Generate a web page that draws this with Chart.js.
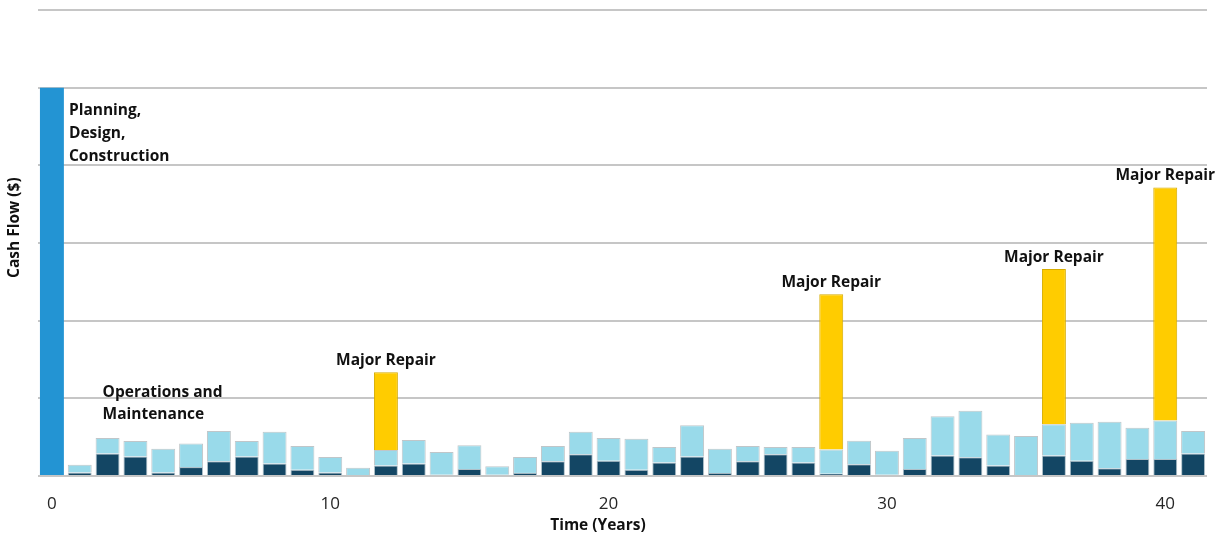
<!DOCTYPE html>
<html>
<head>
<meta charset="utf-8">
<script src="https://cdn.jsdelivr.net/npm/chart.js@4/dist/chart.umd.min.js"></script>
<style>
    html, body { margin: 0; padding: 0; background: #ffffff; }
    #wrap { width: 1224px; height: 537px; }
</style>
</head>
<body>
<div id="wrap"><canvas id="cashFlowChart" width="1224" height="537"></canvas></div>
<script>
// Years 0..41
const years = Array.from({ length: 42 }, (_, i) => String(i));

// Up-front cost (year 0 only)
const construction = [5, null, null, null, null, null, null, null, null, null,
    null, null, null, null, null, null, null, null, null, null,
    null, null, null, null, null, null, null, null, null, null,
    null, null, null, null, null, null, null, null, null, null,
    null, null];

// Operations (dark part of each yearly bar)
const operations = [null, 0.045, 0.29, 0.25, 0.045, 0.115, 0.19, 0.25, 0.16, 0.08,
    0.045, null, 0.135, 0.16, 0.015, 0.09, 0.015, 0.04, 0.19, 0.28,
    0.195, 0.08, 0.175, 0.25, 0.04, 0.19, 0.28, 0.175, 0.03, 0.15,
    0.015, 0.09, 0.265, 0.24, 0.135, null, 0.265, 0.195, 0.10, 0.22,
    0.22, 0.29];

// Maintenance (light part stacked on top)
const maintenance = [null, 0.10, 0.20, 0.20, 0.305, 0.305, 0.39, 0.20, 0.41, 0.305,
    0.20, 0.105, 0.20, 0.305, 0.295, 0.305, 0.11, 0.205, 0.195, 0.29,
    0.295, 0.40, 0.20, 0.405, 0.31, 0.195, 0.095, 0.20, 0.31, 0.305,
    0.31, 0.40, 0.505, 0.60, 0.40, 0.515, 0.40, 0.49, 0.60, 0.40,
    0.495, 0.29];

// Major repairs in years 12, 28, 36 and 40
const majorRepair = [null, null, null, null, null, null, null, null, null, null,
    null, null, 1.0, null, null, null, null, null, null, null,
    null, null, null, null, null, null, null, null, 2.0, null,
    null, null, null, null, null, null, 2.0, null, null, null,
    3.0, null];

const tickLabels = ["0", "10", "20", "30", "40"];

const labelFont = "bold 15.5px 'Open Sans', sans-serif";

// Axis titles and text notes drawn next to the bars
const notesPlugin = {
    id: "notes",
    afterDatasetsDraw(chart) {
        const ctx = chart.ctx;
        const x = chart.scales.x;
        const y = chart.scales.y;
        const area = chart.chartArea;
        ctx.save();
        ctx.fillStyle = "#111111";
        ctx.font = labelFont;

        // axis titles
        ctx.textAlign = "center";
        ctx.textBaseline = "middle";
        ctx.fillText("Time (Years)", area.left + area.width * 0.479, 526);
        ctx.save();
        ctx.translate(15, area.top + area.height * 0.467);
        ctx.rotate(-Math.PI / 2);
        ctx.fillText("Cash Flow ($)", 0, 0);
        ctx.restore();

        // Planning block beside the year 0 bar
        ctx.textAlign = "left";
        const px = x.getPixelForValue(0) + 17;
        const py = y.getPixelForValue(construction[0]) + 23;
        ["Planning,", "Design,", "Construction"].forEach((line, i) => {
            ctx.fillText(line, px, py + i * 23);
        });

        // O&M note above the early bars
        const ox = x.getPixelForValue(1.82);
        const oy = y.getPixelForValue(1.08);
        ctx.fillText("Operations and", ox, oy);
        ctx.fillText("Maintenance", ox, oy + 22);

        // "Major Repair" over each repair bar
        ctx.textAlign = "center";
        ctx.textBaseline = "bottom";
        majorRepair.forEach((v, i) => {
            if (v == null) return;
            const total = (operations[i] || 0) + (maintenance[i] || 0) + v;
            ctx.fillText("Major Repair", x.getPixelForValue(i), y.getPixelForValue(total) - 4);
        });
        ctx.restore();
    }
};

const ctx = document.getElementById("cashFlowChart").getContext("2d");
new Chart(ctx, {
    type: "bar",
    data: {
        labels: years,
        datasets: [
            {
                label: "Planning, Design, Construction",
                data: construction,
                backgroundColor: "#2394d3",
                borderWidth: 0
            },
            {
                label: "Operations",
                data: operations,
                backgroundColor: "#134664",
                borderColor: "rgba(120,150,165,0.6)",
                borderWidth: 1
            },
            {
                label: "Maintenance",
                data: maintenance,
                backgroundColor: "#99daea",
                borderColor: "rgba(150,160,165,0.6)",
                borderWidth: 1
            },
            {
                label: "Major Repair",
                data: majorRepair,
                backgroundColor: "#ffcc00",
                borderColor: "#d6ac00",
                borderWidth: 1
            }
        ]
    },
    options: {
        responsive: false,
        animation: false,
        categoryPercentage: 1.0,
        barPercentage: 0.86,
        layout: {
            padding: { top: 10, right: 17, left: 0, bottom: 0 }
        },
        plugins: {
            legend: { display: false },
            tooltip: { enabled: false }
        },
        scales: {
            x: {
                stacked: true,
                grid: { display: false },
                border: { display: false },
                afterFit: (scale) => { scale.height = 61; },
                ticks: {
                    autoSkip: false,
                    maxRotation: 0,
                    padding: 10,
                    color: "#262626",
                    font: { family: "'Open Sans', sans-serif", size: 17 },
                    callback: function(value) {
                        const lab = this.getLabelForValue(value);
                        return tickLabels.includes(lab) ? lab : "";
                    }
                }
            },
            y: {
                stacked: true,
                min: 0,
                max: 6,
                afterFit: (scale) => { scale.width = 38; },
                ticks: { display: false, stepSize: 1 },
                border: { display: false },
                grid: {
                    color: "#c6c6c6",
                    lineWidth: 2,
                    drawTicks: false
                }
            }
        }
    },
    plugins: [notesPlugin]
});
</script>
</body>
</html>
